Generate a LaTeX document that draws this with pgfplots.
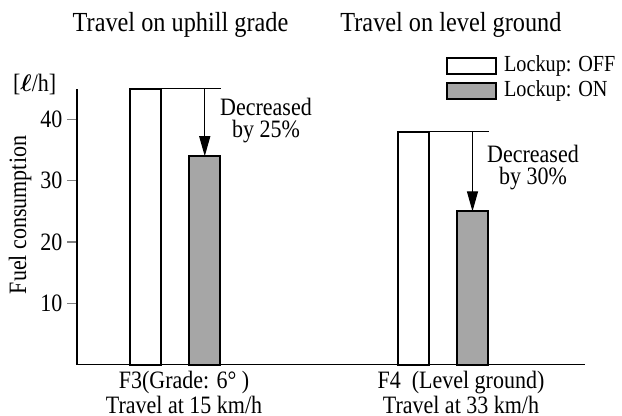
\documentclass[border=0pt]{standalone}
\usepackage{fontspec}
\setmainfont[FakeStretch=0.88]{Liberation Serif}
\usepackage{bm}
\usepackage{pgfplots}
\pgfplotsset{compat=1.18}
\usetikzlibrary{arrows.meta}
\definecolor{bargray}{RGB}{166,166,166}
\begin{document}
\fontsize{12.5}{11}\selectfont
\begin{tikzpicture}
\useasboundingbox (0,0) rectangle (311pt,208pt);
\begin{axis}[
  scale only axis,
  width=254pt, height=137.9pt,
  at={(38.5pt,25.7pt)}, anchor=south west,
  xmin=-0.36695, xmax=1.5304,
  ymin=0, ymax=45,
  axis x line=bottom, axis y line=left,
  axis line style={-, line width=0.6pt},
  xtick={0.0327,1.0672},
  xticklabels={{F3(Grade: 6°~)\\Travel at 15 km/h},{F4~ (Level ground)\\Travel at 33 km/h}},
  x tick label style={align=center, font=\fontsize{12.5}{10.6}\selectfont, yshift=6pt},
  xtick style={draw=none},
  ytick={10,20,30,40},
  tick align=outside,
  major tick length=5pt,
  ytick style={line width=0.6pt},
  y tick label style={font=\fontsize{12.5}{10.75}\selectfont, xshift=2pt},
  /pgf/number format/assume math mode=true,
  ybar=13.8pt,
  bar width=15.7pt,
  clip=false,
  legend image code/.code={\draw[#1] (0pt,-4pt) rectangle (24.5pt,4pt);},
  legend style={at={(axis description cs:0.7258,1.135)}, anchor=north west,
    draw=none, fill=none, inner sep=0pt, row sep=-1.5pt,
    font=\fontsize{11.5}{10.75}\selectfont,
    /tikz/every odd column/.append style={column sep=1.5pt}},
  legend cell align=left,
]
\addplot[draw=black, fill=white, line width=1pt] coordinates {(0,45) (1,38)};
\addlegendentry{Lockup: OFF}
\addplot[draw=black, fill=bargray, line width=1pt] coordinates {(0,34) (1,25)};
\addlegendentry{Lockup: ON}
% annotations
\draw[line width=0.6pt] (axis cs:-0.0486,45) -- (axis cs:0.1718,45);
\draw[line width=0.6pt, -{Triangle[length=10pt,width=5.5pt]}] (axis cs:0.1102,45) -- (axis cs:0.1102,34);
\draw[line width=0.6pt] (axis cs:0.9514,38) -- (axis cs:1.1718,38);
\draw[line width=0.6pt, -{Triangle[length=10pt,width=5.5pt]}] (axis cs:1.1102,38) -- (axis cs:1.1102,25);
\end{axis}
\node[anchor=base, font=\fontsize{13.8}{12}\selectfont] at (90.25pt,192.15pt) {Travel on uphill grade};
\node[anchor=base west, inner sep=0pt, font=\fontsize{13.8}{12}\selectfont] at (170pt,192.15pt) {Travel on level ground};
\node[anchor=base west, inner sep=0pt] at (6.35pt,162.15pt) {[$\bm{\ell}$/h]};
\node[rotate=90] at (10pt,100.5pt) {Fuel consumption};
\node[align=center] at (133pt,147.5pt) {Decreased\\by 25\%};
\node[align=center] at (266.5pt,124pt) {Decreased\\by 30\%};
\end{tikzpicture}
\end{document}
